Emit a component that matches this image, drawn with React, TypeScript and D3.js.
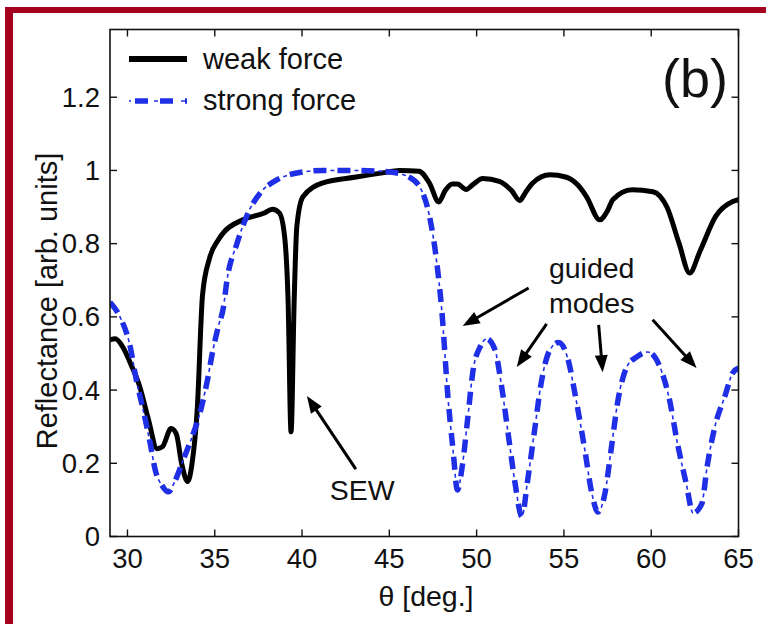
import React from "react";
import * as d3 from "d3";

const xTicks = [30, 35, 40, 45, 50, 55, 60, 65];
const yTicks = [0, 0.2, 0.4, 0.6, 0.8, 1, 1.2];
const yTickLabels = ["0", "0.2", "0.4", "0.6", "0.8", "1", "1.2"];

const weakTheta = [29, 29.3, 29.7, 30.2, 30.7, 31.2, 31.7, 32.0, 32.5, 32.8, 33.1, 33.45, 33.7, 34.0, 34.3, 34.7, 35.2, 35.5, 36.6, 37.8, 38.3, 38.7, 39.0, 39.2, 39.37, 39.55, 39.7, 40.05, 41.2, 43.1, 45, 45.6, 46.7, 47.3, 47.83, 48.2, 48.6, 48.9, 49.4, 49.8, 50.35, 51.3, 52.0, 52.47, 52.8, 53.2, 54.2, 55.1, 55.8, 56.3, 57.05, 57.5, 57.8, 58.9, 60.1, 60.9, 61.6, 62.2, 62.8, 63.7, 64.67, 65];
const weakR = [0.537, 0.54, 0.52, 0.47, 0.41, 0.32, 0.24, 0.245, 0.295, 0.28, 0.2, 0.15, 0.2, 0.35, 0.66, 0.76, 0.81, 0.83, 0.865, 0.883, 0.894, 0.884, 0.82, 0.646, 0.286, 0.646, 0.846, 0.928, 0.966, 0.982, 0.996, 1.0, 0.998, 0.965, 0.914, 0.945, 0.963, 0.963, 0.948, 0.962, 0.978, 0.97, 0.945, 0.918, 0.94, 0.965, 0.988, 0.982, 0.96, 0.928, 0.865, 0.89, 0.92, 0.947, 0.942, 0.9, 0.8, 0.72, 0.78, 0.875, 0.915, 0.92];

const strongTheta = [29, 29.57, 30.15, 30.5, 30.9, 31.3, 31.6, 31.97, 32.35, 32.7, 33.2, 33.7, 34.15, 34.55, 34.9, 35.2, 35.5, 35.7, 36.27, 36.9, 37.6, 38.55, 39.7, 41.2, 43.1, 45.0, 46.2, 46.9, 47.3, 47.7, 48.0, 48.37, 48.65, 48.9, 49.2, 49.5, 49.8, 50.2, 50.57, 51.05, 51.4, 51.8, 52.2, 52.6, 52.9, 53.3, 53.7, 54.2, 54.7, 55.2, 55.7, 56.2, 56.6, 56.95, 57.35, 57.7, 58.1, 58.6, 59.15, 59.8, 60.5, 61.05, 61.5, 62.0, 62.4, 62.9, 63.2, 63.7, 64.2, 64.67, 65];
const strongR = [0.64, 0.6, 0.52, 0.43, 0.346, 0.255, 0.18, 0.14, 0.122, 0.149, 0.21, 0.272, 0.337, 0.42, 0.51, 0.573, 0.627, 0.7, 0.8, 0.883, 0.938, 0.974, 0.993, 1.0, 1.0, 0.996, 0.98, 0.94, 0.875, 0.755, 0.62, 0.373, 0.236, 0.127, 0.2, 0.327, 0.455, 0.518, 0.54, 0.51, 0.42, 0.283, 0.146, 0.054, 0.146, 0.283, 0.42, 0.51, 0.53, 0.49, 0.373, 0.236, 0.118, 0.067, 0.118, 0.236, 0.373, 0.463, 0.49, 0.504, 0.463, 0.373, 0.255, 0.146, 0.064, 0.09, 0.19, 0.31, 0.38, 0.447, 0.46];

// annotation arrows in data coordinates: [tailTheta, tailR, tipTheta, tipR]
const sewArrow = [43.08, 0.184, 40.28, 0.384];
const guidedArrows = [
  [52.98, 0.679, 49.2, 0.575],
  [54.01, 0.581, 52.3, 0.463],
  [56.99, 0.578, 57.22, 0.449],
  [60.08, 0.592, 62.6, 0.46],
];

const W = 766;
const H = 624;
const FONT = "'Liberation Sans', Arial, Helvetica, sans-serif";
const BLUE = "#1f2fe6";
const RED = "#a6001f";

export default function App() {
  const x = d3.scaleLinear().domain([29, 65]).range([110, 738.5]);
  const y = d3.scaleLinear().domain([0, 1.385]).range([536.5, 29.5]);
  const [x0, x1] = x.range();
  const [yb, yt] = y.range();

  const line = d3
    .line<[number, number]>()
    .x((d) => x(d[0]))
    .y((d) => y(d[1]))
    .curve(d3.curveMonotoneX);

  const weakPath = line(weakTheta.map((t, i) => [t, weakR[i]]) as [number, number][]) || "";
  const strongPath = line(strongTheta.map((t, i) => [t, strongR[i]]) as [number, number][]) || "";

  const arrow = (a: number[], key: string) => {
    const tx = x(a[0]), ty = y(a[1]), hx = x(a[2]), hy = y(a[3]);
    const dx = hx - tx, dy = hy - ty;
    const len = Math.hypot(dx, dy);
    const ux = dx / len, uy = dy / len;
    const hl = 17, hw = 6.5;
    const bx = hx - ux * hl, by = hy - uy * hl;
    const pts = [
      [hx, hy],
      [bx - uy * hw, by + ux * hw],
      [bx + uy * hw, by - ux * hw],
    ];
    return (
      <g key={key}>
        <line x1={tx} y1={ty} x2={bx + ux * 2} y2={by + uy * 2} stroke="#000" strokeWidth={3} />
        <polygon points={pts.map((p) => p.join(",")).join(" ")} fill="#000" />
      </g>
    );
  };

  return (
    <svg
      width={W}
      height={H}
      viewBox={`0 0 ${W} ${H}`}
      style={{ position: "fixed", left: 0, top: 0, background: "#fff" }}
      fontFamily={FONT}
    >
      <rect x={0} y={0} width={W} height={H} fill="#fff" />
      {/* red frame */}
      <rect x={5} y={7} width={W - 5} height={6} fill={RED} />
      <rect x={5} y={7} width={8} height={H - 7} fill={RED} />

      {/* curves */}
      <defs>
        <clipPath id="plotClip">
          <rect x={x0} y={yt} width={x1 - x0} height={yb - yt} />
        </clipPath>
      </defs>
      <g clipPath="url(#plotClip)">
        <path d={weakPath} fill="none" stroke="#000" strokeWidth={5} strokeLinejoin="round" />
        <path d={strongPath} fill="none" stroke={BLUE} strokeWidth={5.5} strokeDasharray="13 11" />
        <path d={strongPath} fill="none" stroke={BLUE} strokeWidth={1.6} strokeDasharray="4 20" strokeDashoffset={7} />
      </g>

      {/* axes box */}
      <rect x={x0} y={yt} width={x1 - x0} height={yb - yt} fill="none" stroke="#111" strokeWidth={1.6} />
      {xTicks.map((t) => (
        <g key={"xt" + t}>
          <line x1={x(t)} x2={x(t)} y1={yb} y2={yb - 7} stroke="#111" strokeWidth={1.4} />
          <line x1={x(t)} x2={x(t)} y1={yt} y2={yt + 7} stroke="#111" strokeWidth={1.4} />
          <text x={x(t)} y={568} textAnchor="middle" fontSize={27.5} fill="#111">
            {t}
          </text>
        </g>
      ))}
      {yTicks.map((t, i) => (
        <g key={"yt" + t}>
          <line x1={x0} x2={x0 + 7} y1={y(t)} y2={y(t)} stroke="#111" strokeWidth={1.4} />
          <line x1={x1} x2={x1 - 7} y1={y(t)} y2={y(t)} stroke="#111" strokeWidth={1.4} />
          <text x={100} y={y(t) + 9.5} textAnchor="end" fontSize={27.5} fill="#111">
            {yTickLabels[i]}
          </text>
        </g>
      ))}

      {/* axis labels */}
      <text x={426} y={606} textAnchor="middle" fontSize={28.5} fill="#111">
        θ [deg.]
      </text>
      <text
        transform={`translate(57,301) rotate(-90)`}
        textAnchor="middle"
        fontSize={29}
        fill="#111"
      >
        Reflectance [arb. units]
      </text>

      {/* legend */}
      <line x1={129} x2={187} y1={59} y2={59} stroke="#000" strokeWidth={6} />
      <text x={203} y={69} fontSize={29} fill="#111">
        weak force
      </text>
      <line x1={129} x2={187} y1={101} y2={101} stroke={BLUE} strokeWidth={5.5} strokeDasharray="0 6 13 6 0 6 13 6" />
      <line x1={129} x2={187} y1={101} y2={101} stroke={BLUE} strokeWidth={1.6} strokeDasharray="2 23 4 23 4" />
      <text x={203} y={110} fontSize={29} fill="#111">
        strong force
      </text>

      {/* panel label */}
      <text x={662} y={97} fontSize={54} fill="#111">
        (b)
      </text>

      {/* annotations */}
      {arrow(sewArrow, "sew")}
      <text x={x(43.45)} y={y(0.1)} textAnchor="middle" fontSize={28.5} fill="#111">
        SEW
      </text>
      {guidedArrows.map((a, i) => arrow(a, "g" + i))}
      <text x={x(56.59)} y={y(0.706)} textAnchor="middle" fontSize={28.5} fill="#111">
        guided
      </text>
      <text x={x(56.59)} y={y(0.611)} textAnchor="middle" fontSize={28.5} fill="#111">
        modes
      </text>
    </svg>
  );
}
